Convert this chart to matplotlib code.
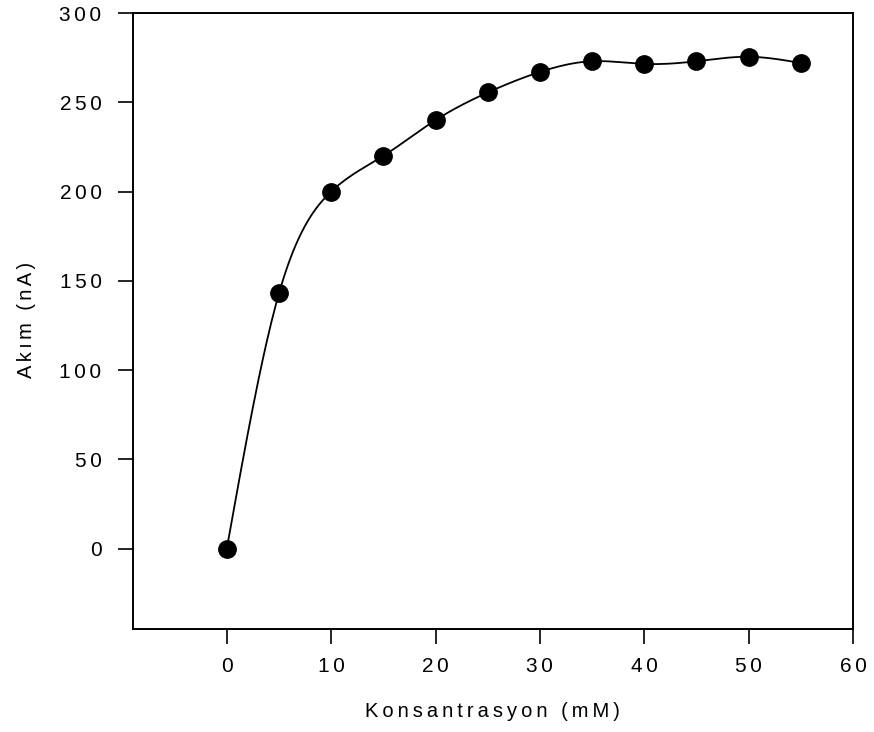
import numpy as np
import matplotlib
matplotlib.use("Agg")
import matplotlib.pyplot as plt

# data
konsantrasyon = [0, 5, 10, 15, 20, 25, 30, 35, 40, 45, 50, 55]
akim = [0, 143, 200, 220, 240, 255.5, 267, 273, 271.5, 273, 275.5, 272]
x_ticks = [0, 10, 20, 30, 40, 50, 60]
y_ticks = [0, 50, 100, 150, 200, 250, 300]

# the original text has wide letter spacing
THIN = "\u2009"
SIXTH = "\u2006"


def spaced(s, sp):
    return sp.join(s)


def natural_spline(x, y, xs):
    x = np.asarray(x, float)
    y = np.asarray(y, float)
    n = len(x)
    h = np.diff(x)
    A = np.zeros((n, n))
    b = np.zeros(n)
    A[0, 0] = 1
    A[-1, -1] = 1
    for i in range(1, n - 1):
        A[i, i - 1] = h[i - 1]
        A[i, i] = 2 * (h[i - 1] + h[i])
        A[i, i + 1] = h[i]
        b[i] = 6 * ((y[i + 1] - y[i]) / h[i] - (y[i] - y[i - 1]) / h[i - 1])
    M = np.linalg.solve(A, b)
    idx = np.clip(np.searchsorted(x, xs) - 1, 0, n - 2)
    x0, x1 = x[idx], x[idx + 1]
    hh = x1 - x0
    t0 = x1 - xs
    t1 = xs - x0
    return (M[idx] * t0**3 / (6 * hh) + M[idx + 1] * t1**3 / (6 * hh)
            + (y[idx] / hh - M[idx] * hh / 6) * t0
            + (y[idx + 1] / hh - M[idx + 1] * hh / 6) * t1)


plt.rcParams['font.family'] = ['Liberation Sans', 'DejaVu Sans']

fig = plt.figure(figsize=(8.74, 7.32), dpi=100)
ax = fig.add_axes([0.152, 0.1407, 0.824, 0.8415])

xs = np.linspace(konsantrasyon[0], konsantrasyon[-1], 400)
ax.plot(xs, natural_spline(konsantrasyon, akim, xs), color="black", lw=1.3)
ax.plot(konsantrasyon, akim, "o", color="black", ms=12.5)

ax.set_xlim(-9, 60)
ax.set_ylim(-45, 300)
ax.set_xticks(x_ticks)
ax.set_yticks(y_ticks)
ax.set_xticklabels([spaced(str(t), SIXTH) for t in x_ticks], fontsize=15)
ax.set_yticklabels([spaced(str(t), SIXTH) for t in y_ticks], fontsize=15)
ax.tick_params(direction="out", length=11, width=1.2)
ax.tick_params(axis="x", pad=9.5)
ax.tick_params(axis="y", pad=11.5)
for s in ax.spines.values():
    s.set_linewidth(1.4)

ax.set_xlabel(spaced("Konsantrasyon (mM)", THIN), fontsize=14.5, va="top")
ax.xaxis.set_label_coords(0.5, -0.118)
ax.set_ylabel(spaced("Akım (nA)", SIXTH), fontsize=14.5, va="center")
ax.yaxis.set_label_coords(-0.148, 0.502)

fig.savefig("out.png", dpi=100)
